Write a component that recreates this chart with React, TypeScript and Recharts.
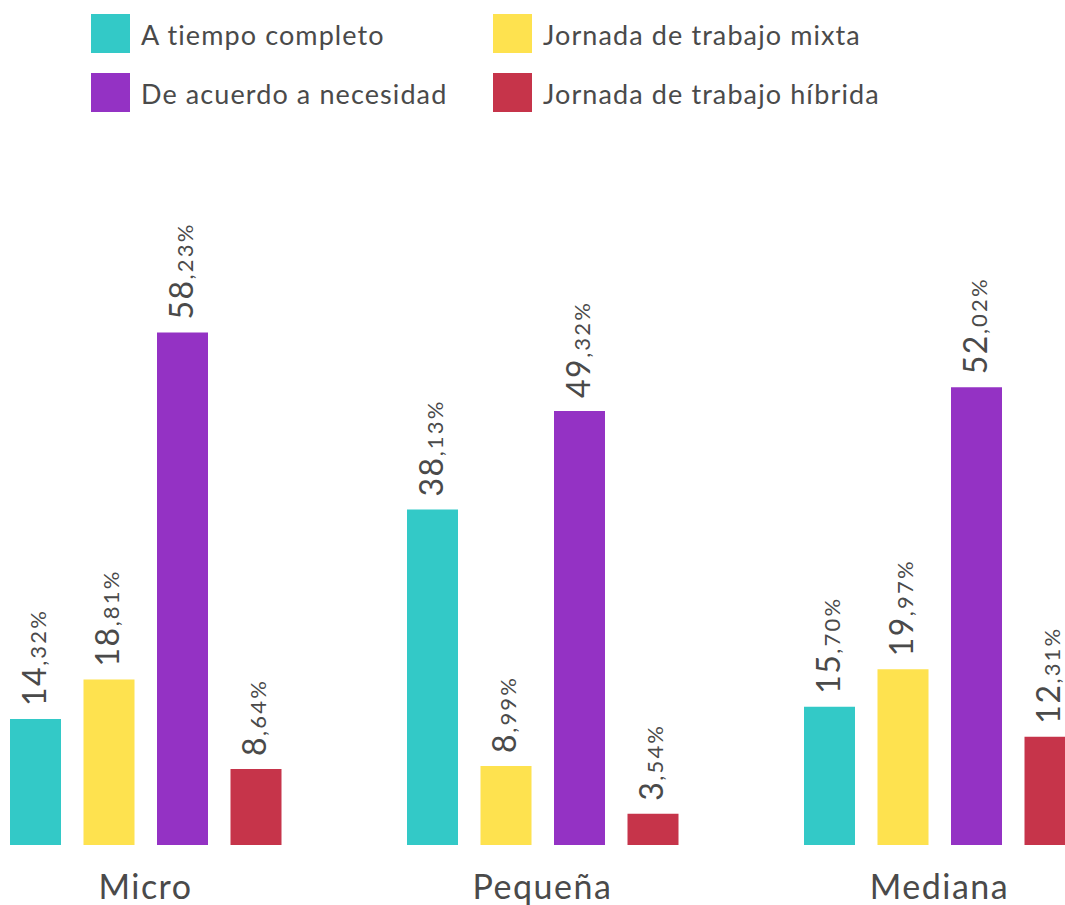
import { BarChart, Bar, XAxis, YAxis, Legend, LabelList } from "recharts";

const categories = ["Micro", "Pequeña", "Mediana"];
const tiempoCompleto = [14.32, 38.13, 15.7];
const jornadaMixta = [18.81, 8.99, 19.97];
const deAcuerdo = [58.23, 49.32, 52.02];
const jornadaHibrida = [8.64, 3.54, 12.31];

const series = [
  { key: "tiempo", name: "A tiempo completo", color: "#33C9C7", values: tiempoCompleto },
  { key: "mixta", name: "Jornada de trabajo mixta", color: "#FEE24F", values: jornadaMixta },
  { key: "necesidad", name: "De acuerdo a necesidad", color: "#9432C4", values: deAcuerdo },
  { key: "hibrida", name: "Jornada de trabajo híbrida", color: "#C6344A", values: jornadaHibrida },
];

// legend is laid out in two columns: teal/purple left, yellow/red right
const legendOrder = ["tiempo", "mixta", "necesidad", "hibrida"];

const FONT = "Lato, sans-serif";
const TEXT = "#4a4a4a";

const data = categories.map((c, i) => {
  const row: Record<string, string | number> = { category: c };
  for (const s of series) row[s.key] = s.values[i];
  return row;
});

function ValueLabel(props: any) {
  const { x, y, width, value } = props;
  const bx = x + width / 2 + 10.5;
  const by = y - 13;
  const [intPart, decPart] = Number(value).toFixed(2).split(".");
  return (
    <text
      x={bx}
      y={by}
      transform={`rotate(-90 ${bx} ${by})`}
      textAnchor="start"
      fill={TEXT}
      fontFamily={FONT}
    >
      <tspan fontSize={32} letterSpacing={1.5}>{intPart}</tspan>
      <tspan fontSize={22} letterSpacing={2.2}>,{decPart}%</tspan>
    </text>
  );
}

function CategoryTick(props: any) {
  const { x, y, payload } = props;
  return (
    <text
      x={x}
      y={y + 46}
      textAnchor="middle"
      fontSize={34}
      letterSpacing={1.5}
      fill={TEXT}
      fontFamily={FONT}
    >
      {payload.value}
    </text>
  );
}

function LegendBox() {
  return (
    <div style={{ position: "relative", width: 900, height: 120, fontFamily: FONT }}>
      {legendOrder.map((k, i) => {
        const s = series.find((d) => d.key === k)!;
        const col = i % 2;
        const row = Math.floor(i / 2);
        return (
          <div
            key={k}
            style={{
              position: "absolute",
              left: col * 402,
              top: row * 59,
              display: "flex",
              alignItems: "flex-start",
              whiteSpace: "nowrap",
            }}
          >
            <span style={{ width: 39, height: 39, background: s.color, display: "inline-block" }} />
            <span
              style={{
                marginLeft: 11,
                fontSize: 27,
                letterSpacing: 1.1,
                color: TEXT,
                lineHeight: "39px",
                position: "relative",
                top: 1,
              }}
            >
              {s.name}
            </span>
          </div>
        );
      })}
    </div>
  );
}

export default function App() {
  return (
    <div
      style={{
        position: "fixed",
        left: 0,
        top: 0,
        width: 1065,
        height: 905,
        overflow: "hidden",
        background: "#fff",
      }}
    >
      <div style={{ marginLeft: -53 }}>
        <BarChart
          width={1191}
          height={905}
          data={data}
          margin={{ top: 317, right: 0, bottom: 0, left: 0 }}
          barSize={51}
          barGap={22.5}
        >
          <XAxis
            dataKey="category"
            axisLine={false}
            tickLine={false}
            height={60}
            interval={0}
            tick={<CategoryTick />}
          />
          <YAxis hide domain={[0, 60]} />
          <Legend
            layout="horizontal"
            verticalAlign="middle"
            align="center"
            wrapperStyle={{ top: 14, left: 144, width: 900 }}
            content={() => <LegendBox />}
          />
          {series.map((s) => (
            <Bar key={s.key} dataKey={s.key} name={s.name} fill={s.color} isAnimationActive={false}>
              <LabelList dataKey={s.key} content={<ValueLabel />} />
            </Bar>
          ))}
        </BarChart>
      </div>
    </div>
  );
}
